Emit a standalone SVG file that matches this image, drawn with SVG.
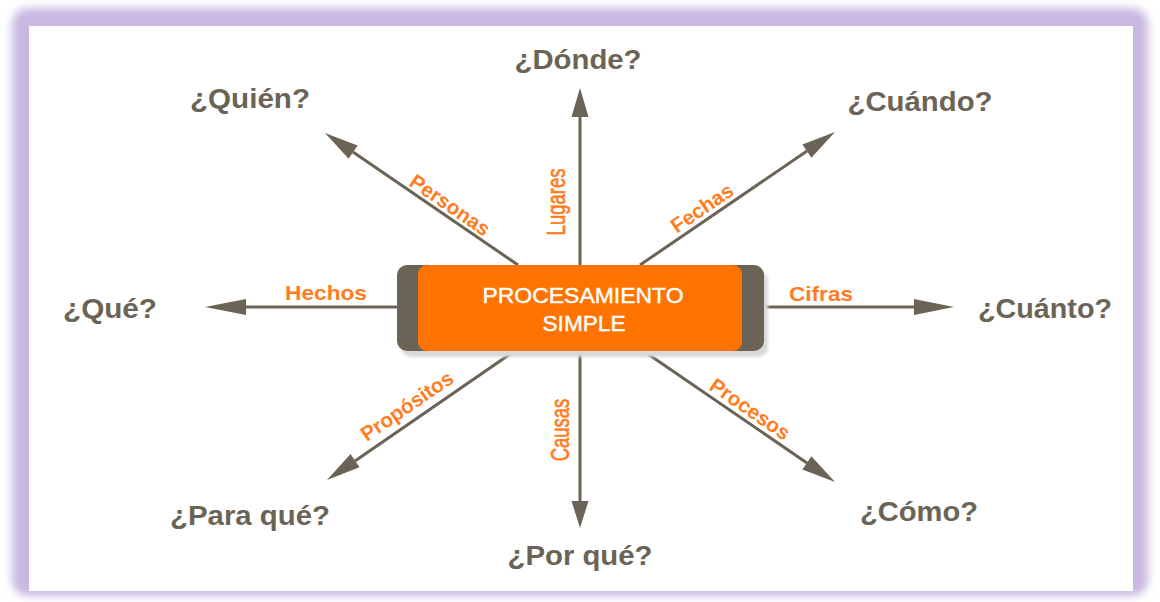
<svg xmlns="http://www.w3.org/2000/svg" width="1160" height="602" viewBox="0 0 1160 602">
<defs>
<filter id="blur" x="-5%" y="-5%" width="110%" height="110%"><feGaussianBlur stdDeviation="4"/></filter>
<filter id="sblur" x="-5%" y="-20%" width="110%" height="140%"><feGaussianBlur stdDeviation="1.5"/></filter>
<style>
.q{font-family:"Liberation Sans",Arial,sans-serif;font-weight:bold;font-size:27px;fill:#6b6456;text-anchor:middle}
.l{font-family:"Liberation Sans",Arial,sans-serif;font-weight:bold;fill:#ff7d1f;text-anchor:middle}
.v{font-family:"Liberation Sans",Arial,sans-serif;font-weight:normal;fill:#ff7d1f;text-anchor:middle;stroke:#ff7d1f;stroke-width:0.5}
.c{font-family:"Liberation Sans",Arial,sans-serif;font-size:21.5px;fill:#ffffff;text-anchor:middle}
.ln{stroke:#6b6456;stroke-width:3;fill:none}
.ah{fill:#6b6456}
</style>
</defs>
<rect x="12" y="8" width="1136" height="588" rx="16" fill="#c9b8e1" filter="url(#blur)"/>
<rect x="29" y="26" width="1104" height="565" fill="#ffffff"/>

<g id="connectors">
<line class="ln" x1="580" y1="265" x2="580" y2="115"/>
<polygon class="ah" points="580,88 588.5,117 571.5,117"/>
<line class="ln" x1="580" y1="351" x2="580" y2="502"/>
<polygon class="ah" points="580,528 588.5,501 571.5,501"/>
<line class="ln" x1="397" y1="307" x2="245" y2="307"/>
<polygon class="ah" points="205,307 246,299 246,315"/>
<line class="ln" x1="764" y1="307" x2="915" y2="307"/>
<polygon class="ah" points="954,307 914,299 914,315"/>
<line class="ln" x1="518" y1="265" x2="353" y2="152"/>
<polygon class="ah" points="325,133 357.6,145.6 348.6,158.8"/>
<line class="ln" x1="640" y1="265" x2="807" y2="151"/>
<polygon class="ah" points="835,132 811.4,157.8 802.4,144.6"/>
<line class="ln" x1="513" y1="352" x2="355" y2="461"/>
<polygon class="ah" points="327,480 359.5,467.3 350.5,454.1"/>
<line class="ln" x1="645" y1="352" x2="807" y2="463"/>
<polygon class="ah" points="835,482 802.4,469.4 811.4,456.2"/>
</g>

<g id="labels">
<text class="l" font-size="21" x="326" y="300" textLength="82" lengthAdjust="spacingAndGlyphs">Hechos</text>
<text class="l" font-size="21" x="821" y="301" textLength="64" lengthAdjust="spacingAndGlyphs">Cifras</text>
<text class="v" font-size="18.5" transform="translate(565,202) rotate(-90) scale(1,1.35)" x="0" y="0">Lugares</text>
<text class="v" font-size="18.5" transform="translate(569,430) rotate(-90) scale(1,1.35)" x="0" y="0">Causas</text>
<text class="l" font-size="20.5" transform="translate(450,205) rotate(34.4)" x="0" y="7">Personas</text>
<text class="l" font-size="20.5" transform="translate(702,208) rotate(-34.4)" x="0" y="7">Fechas</text>
<text class="l" font-size="20.5" transform="translate(407,406) rotate(-34.5)" x="0" y="7">Propósitos</text>
<text class="l" font-size="20.5" transform="translate(750,409) rotate(34.5)" x="0" y="7">Procesos</text>
</g>

<g id="center">
<rect x="401" y="271" width="367" height="86" rx="10" fill="#d9d9d9" filter="url(#sblur)"/>
<rect x="397" y="265" width="367" height="86" rx="10" fill="#6b6456"/>
<rect x="418" y="265" width="324" height="86" rx="9" fill="#ff7300"/>
<text class="c" x="583" y="303" textLength="201" lengthAdjust="spacingAndGlyphs" stroke="#ffffff" stroke-width="0.4">PROCESAMIENTO</text>
<text class="c" x="584" y="331" textLength="83" lengthAdjust="spacingAndGlyphs" stroke="#ffffff" stroke-width="0.4">SIMPLE</text>
</g>

<g id="q-quien"><text class="q" x="250" y="108" textLength="120" lengthAdjust="spacingAndGlyphs">¿Quién?</text></g>
<g id="q-donde"><text class="q" x="578" y="69" textLength="127" lengthAdjust="spacingAndGlyphs">¿Dónde?</text></g>
<g id="q-cuando"><text class="q" x="920" y="111" textLength="145" lengthAdjust="spacingAndGlyphs">¿Cuándo?</text></g>
<g id="q-que"><text class="q" x="110" y="318" textLength="94" lengthAdjust="spacingAndGlyphs">¿Qué?</text></g>
<g id="q-cuanto"><text class="q" x="1045" y="318" textLength="134" lengthAdjust="spacingAndGlyphs">¿Cuánto?</text></g>
<g id="q-paraque"><text class="q" x="250" y="525" textLength="160" lengthAdjust="spacingAndGlyphs">¿Para qué?</text></g>
<g id="q-porque"><text class="q" x="580" y="565" textLength="145" lengthAdjust="spacingAndGlyphs">¿Por qué?</text></g>
<g id="q-como"><text class="q" x="919" y="521" textLength="118" lengthAdjust="spacingAndGlyphs">¿Cómo?</text></g>
</svg>
